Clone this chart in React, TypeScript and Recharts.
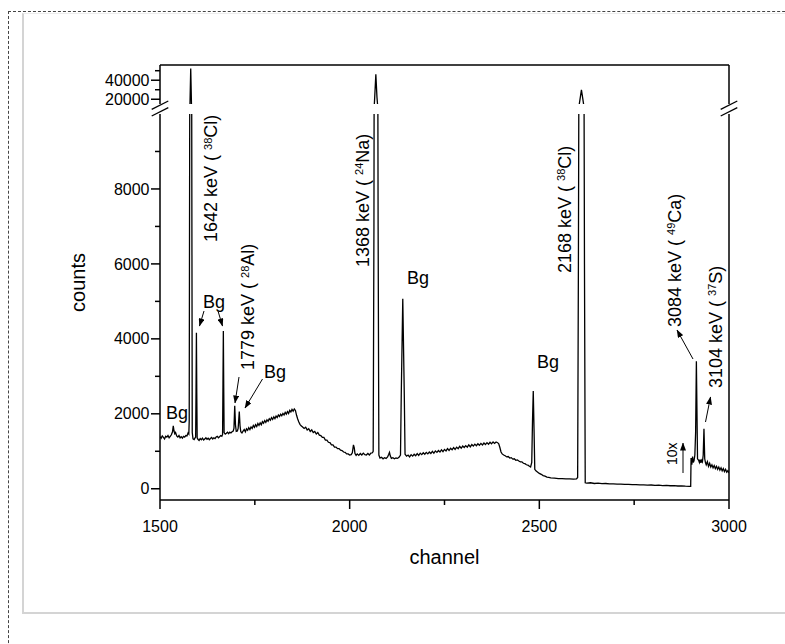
import React from 'react';
import { LineChart, Line, XAxis, YAxis } from 'recharts';

const FONT = '"Liberation Sans", Arial, Helvetica, sans-serif';

// spectrum, [channel, counts]
const spectrumA: [number, number][] = [
  [1500, 1390], [1503, 1350], [1506, 1410], [1509, 1370], [1512, 1330], [1515, 1400], [1518, 1380],
  [1521, 1420], [1524, 1360], [1527, 1400], [1530, 1440], [1533, 1520], [1535, 1680], [1537, 1540],
  [1539, 1470], [1541, 1500], [1544, 1410], [1547, 1380], [1550, 1420], [1553, 1360], [1556, 1390],
  [1559, 1350], [1562, 1400], [1565, 1380], [1568, 1420], [1571, 1410], [1574, 1490], [1576, 1460],
  [1577, 1800], [1579, 14000], [1581, 52300], [1583, 14000], [1585, 1500], [1587, 1330], [1590, 1310],
  [1592, 1350], [1594, 1380], [1595, 2600], [1596, 4160], [1597, 2500], [1598, 1360], [1600, 1320],
];

const spectrumB: [number, number][] = [
  [1603, 1290], [1606, 1340], [1609, 1310], [1612, 1350], [1615, 1300], [1618, 1330], [1621, 1360],
  [1624, 1320], [1627, 1350], [1630, 1310], [1633, 1340], [1636, 1370], [1639, 1330], [1642, 1360],
  [1645, 1340], [1648, 1380], [1651, 1400], [1654, 1360], [1657, 1390], [1660, 1420], [1663, 1400],
  [1665, 1450], [1666, 2800], [1667, 4210], [1668, 2700], [1669, 1500], [1672, 1460], [1675, 1480],
  [1678, 1510], [1681, 1470], [1684, 1510], [1687, 1490], [1690, 1520], [1693, 1540], [1695, 1620],
  [1697, 2213], [1699, 1700], [1701, 1530], [1704, 1540], [1706, 1610], [1709, 2060], [1711, 1680],
  [1713, 1520], [1716, 1490],
];

const spectrumC: [number, number][] = [
  [1719, 1540], [1722, 1580], [1725, 1520], [1728, 1600], [1731, 1560], [1734, 1630], [1737, 1580],
  [1740, 1650], [1743, 1610], [1746, 1690], [1749, 1640], [1752, 1710], [1755, 1660], [1758, 1740],
  [1761, 1690], [1764, 1760], [1767, 1710], [1770, 1790], [1773, 1750], [1776, 1820], [1779, 1770],
  [1782, 1840], [1785, 1800], [1788, 1870], [1791, 1830], [1794, 1900], [1797, 1850], [1800, 1920],
  [1803, 1870], [1806, 1940], [1809, 1900], [1812, 1970], [1815, 1930], [1818, 1990], [1821, 1950],
  [1824, 2010], [1827, 1970], [1830, 2040], [1833, 1990], [1836, 2060], [1839, 2010], [1842, 2090],
  [1845, 2050], [1848, 2120], [1851, 2070], [1854, 2130], [1857, 2090], [1860, 1960], [1863, 1860],
  [1866, 1780], [1869, 1720], [1872, 1680], [1876, 1650], [1880, 1610], [1884, 1640], [1888, 1570],
  [1892, 1600], [1896, 1530], [1900, 1570], [1904, 1500], [1908, 1530], [1912, 1460], [1916, 1500],
  [1920, 1430], [1924, 1420], [1928, 1370], [1932, 1370], [1936, 1300], [1940, 1300], [1944, 1240],
  [1948, 1230], [1952, 1170], [1956, 1170], [1960, 1110], [1964, 1110], [1968, 1070], [1972, 1070],
  [1976, 1030], [1980, 1020], [1984, 980], [1988, 970], [1992, 930], [1996, 930], [2000, 900],
  [2004, 910], [2007, 960], [2010, 1170], [2012, 1100], [2014, 940], [2017, 890], [2020, 930],
  [2024, 890], [2028, 940], [2032, 900], [2036, 950], [2040, 910], [2044, 900], [2048, 940],
  [2052, 900], [2056, 950], [2060, 960], [2062, 1000],
];

const spectrumD: [number, number][] = [
  [2064, 7000], [2066, 22000], [2069, 46300], [2072, 22000], [2075, 7000], [2077, 900], [2080, 820],
  [2084, 840], [2088, 800], [2092, 830], [2096, 810], [2100, 850], [2103, 920], [2105, 970],
  [2107, 880], [2110, 810], [2114, 830], [2118, 800], [2122, 820], [2126, 810], [2130, 840],
  [2134, 900], [2136, 2500], [2140, 5070], [2144, 2500], [2146, 920], [2150, 870], [2154, 900],
  [2158, 850], [2162, 910], [2166, 870], [2170, 920], [2174, 880], [2178, 940], [2182, 890],
  [2186, 950], [2190, 910], [2194, 960], [2198, 920], [2202, 970], [2206, 930], [2210, 980],
  [2214, 940], [2218, 1000], [2222, 950], [2226, 1010], [2230, 970], [2234, 1020], [2238, 980],
  [2242, 1040], [2246, 990], [2250, 1050], [2254, 1010], [2258, 1070], [2262, 1020], [2266, 1080],
  [2270, 1040], [2274, 1100], [2278, 1050], [2282, 1110], [2286, 1070], [2290, 1130], [2294, 1080],
  [2298, 1140], [2302, 1100], [2306, 1150], [2310, 1110], [2314, 1170], [2318, 1120], [2322, 1180],
  [2326, 1140], [2330, 1190], [2334, 1150], [2338, 1200], [2342, 1160], [2346, 1210], [2350, 1170],
  [2354, 1220], [2358, 1180], [2362, 1230], [2366, 1190], [2370, 1240], [2374, 1200], [2378, 1250],
  [2382, 1210], [2386, 1250], [2390, 1230], [2393, 1200], [2396, 1100], [2399, 980],
];

const spectrumE: [number, number][] = [
  [2402, 930], [2406, 900], [2410, 880], [2414, 850], [2418, 860], [2422, 820], [2426, 830],
  [2430, 790], [2434, 800], [2438, 760], [2442, 770], [2446, 740], [2450, 720], [2454, 720],
  [2458, 680], [2462, 670], [2466, 640], [2470, 630], [2474, 600], [2477, 580], [2480, 700],
  [2482, 1800], [2484, 2610], [2486, 1600], [2488, 520], [2491, 480], [2495, 450], [2500, 410],
  [2505, 385], [2510, 350], [2515, 335], [2520, 310], [2525, 305], [2530, 290], [2540, 285],
  [2550, 270], [2560, 272], [2570, 262], [2580, 266], [2590, 258], [2598, 262], [2601, 300],
  [2603, 6000], [2605, 14000], [2608, 22000], [2611, 30000], [2614, 22000], [2617, 14000],
  [2619, 6000], [2621, 160], [2625, 150], [2635, 160], [2645, 140], [2655, 150], [2665, 135],
  [2675, 140], [2685, 128], [2695, 132], [2705, 122], [2715, 126], [2725, 115], [2735, 118],
  [2745, 108], [2755, 112], [2765, 102], [2775, 106], [2785, 98], [2795, 100], [2805, 92],
  [2815, 95], [2825, 86], [2835, 88], [2845, 80], [2855, 82], [2865, 74], [2875, 76],
  [2885, 68], [2895, 64], [2899, 62],
];

// shown magnified 10x in the figure
const spectrumF: [number, number][] = [
  [2900, 820], [2902, 640], [2904, 860], [2906, 700], [2908, 760], [2910, 900], [2912, 1500],
  [2914, 3400], [2917, 800], [2920, 760], [2922, 700], [2924, 780], [2926, 690], [2928, 760],
  [2930, 720], [2932, 900], [2934, 1600], [2936, 800], [2938, 700], [2940, 640], [2943, 720],
  [2946, 600], [2949, 680], [2952, 580], [2955, 640], [2958, 560], [2961, 620], [2964, 540],
  [2967, 600], [2970, 520], [2973, 580], [2976, 500], [2979, 560], [2982, 480], [2985, 540],
  [2988, 460], [2991, 520], [2994, 440], [2997, 480], [3000, 420],
];

const X_TICKS = [1500, 1750, 2000, 2250, 2500, 2750, 3000];
const X_LABELED = [1500, 2000, 2500, 3000];
const LOW_TICKS = [0, 1000, 2000, 3000, 4000, 5000, 6000, 7000, 8000, 9000];
const LOW_LABELED = [0, 2000, 4000, 6000, 8000];
const HIGH_TICKS = [20000, 30000, 40000, 50000];
const HIGH_LABELED = [20000, 40000];

const X_DOMAIN = [1500, 3000];
const LOW_DOMAIN = [-300, 10000];
const HIGH_DOMAIN = [15000, 56000];

const data = [...spectrumA, ...spectrumB, ...spectrumC, ...spectrumD, ...spectrumE, ...spectrumF].map(
  ([ch, c]) => ({ ch, c })
);

const peakLabels = [
  { pre: '1642 keV ( ', sup: '38', post: 'Cl)', x: 217, y: 242 },
  { pre: '1779 keV ( ', sup: '28', post: 'Al)', x: 254, y: 370 },
  { pre: '1368 keV ( ', sup: '24', post: 'Na)', x: 368.5, y: 267 },
  { pre: '2168 keV ( ', sup: '38', post: 'Cl)', x: 570.5, y: 273 },
  { pre: '3084 keV ( ', sup: '49', post: 'Ca)', x: 680.5, y: 327 },
  { pre: '3104 keV ( ', sup: '37', post: 'S)', x: 721.5, y: 388 },
];

const bgLabels = [
  { x: 166, y: 419 },
  { x: 203, y: 308 },
  { x: 264, y: 378 },
  { x: 407, y: 284 },
  { x: 537, y: 368 },
];

const arrows = [
  [204, 311, 199.5, 326],
  [218, 311, 222.5, 326],
  [239, 377, 235, 403],
  [262.5, 379, 245, 408],
  [693, 359, 677, 330],
  [705.5, 422, 710.5, 397],
  [683, 473, 683, 443],
];

type TickProps = { x?: number; y?: number; payload?: { value: number } };

function BottomTick({ x = 0, y = 0, payload }: TickProps) {
  const v = payload?.value ?? 0;
  const major = X_LABELED.includes(v);
  return (
    <g>
      <line x1={x} x2={x} y1={y} y2={y + (major ? 9 : 5)} stroke="#000" strokeWidth={1.5} />
      {major && (
        <text x={x} y={y + 32} textAnchor="middle" fontSize={16} fontFamily={FONT} fill="#000">
          {v}
        </text>
      )}
    </g>
  );
}

function LeftTick({ x = 0, y = 0, payload, labeled }: TickProps & { labeled: number[] }) {
  const v = payload?.value ?? 0;
  const major = labeled.includes(v);
  return (
    <g>
      <line x1={x} x2={x - (major ? 9 : 5)} y1={y} y2={y} stroke="#000" strokeWidth={1.5} />
      {major && (
        <text x={x - 10.5} y={y} dy="0.35em" textAnchor="end" fontSize={16} fontFamily={FONT} fill="#000">
          {v}
        </text>
      )}
    </g>
  );
}

function BreakMark({ x, y }: { x: number; y: number }) {
  return (
    <g transform={`translate(${x},${y})`}>
      <polygon points="-8.3,0.8 8.3,-7.5 8.3,-0.8 -8.3,7.5" fill="#fff" />
      <line x1={-8.3} y1={0.8} x2={8.3} y2={-7.5} stroke="#000" strokeWidth={1.3} />
      <line x1={-8.3} y1={7.5} x2={8.3} y2={-0.8} stroke="#000" strokeWidth={1.3} />
    </g>
  );
}

const axisLine = { stroke: '#000', strokeWidth: 1.5 };

export default function App() {
  return (
    <div style={{ position: 'fixed', left: 0, top: 0, width: 785, height: 644, overflow: 'hidden', background: '#fff' }}>
      <div style={{ position: 'absolute', left: 8, top: 11, width: 900, height: 700, border: '1px dashed #444' }} />
      <div
        style={{
          position: 'absolute', left: 22, top: 13, width: 900, height: 598,
          borderLeft: '2px solid #d4d4d4', borderBottom: '2px solid #d4d4d4', borderTop: '1px solid #ececec',
        }}
      />

      {/* lower part of the broken axis */}
      <div style={{ position: 'absolute', left: 0, top: 0 }}>
        <LineChart width={785} height={644} data={data} margin={{ top: 114, right: 55, bottom: 143, left: 159 }}>
          <XAxis
            dataKey="ch" type="number" domain={X_DOMAIN} ticks={X_TICKS} interval={0} allowDataOverflow
            height={1} tickSize={0} tickMargin={0} axisLine={axisLine} tickLine={false}
            tick={(p: TickProps) => <BottomTick {...p} />}
          />
          <YAxis
            type="number" domain={LOW_DOMAIN} ticks={LOW_TICKS} interval={0} allowDataOverflow
            width={1} tickSize={0} tickMargin={0} axisLine={axisLine} tickLine={false}
            tick={(p: TickProps) => <LeftTick {...p} labeled={LOW_LABELED} />}
          />
          <YAxis yAxisId="r" orientation="right" type="number" domain={[0, 1]} width={1} tick={false} tickLine={false} axisLine={axisLine} />
          <Line dataKey="c" type="linear" stroke="#000" strokeWidth={1.3} dot={false} activeDot={false} isAnimationActive={false} />
        </LineChart>
      </div>

      {/* upper part of the broken axis */}
      <div style={{ position: 'absolute', left: 0, top: 0 }}>
        <LineChart width={785} height={130} data={data} margin={{ top: 64, right: 55, bottom: 26, left: 159 }}>
          <XAxis
            dataKey="ch" type="number" domain={X_DOMAIN} orientation="top" allowDataOverflow
            height={1} tick={false} tickLine={false} axisLine={axisLine}
          />
          <YAxis
            type="number" domain={HIGH_DOMAIN} ticks={HIGH_TICKS} interval={0} allowDataOverflow
            width={1} tickSize={0} tickMargin={0} axisLine={axisLine} tickLine={false}
            tick={(p: TickProps) => <LeftTick {...p} labeled={HIGH_LABELED} />}
          />
          <YAxis yAxisId="r" orientation="right" type="number" domain={[0, 1]} width={1} tick={false} tickLine={false} axisLine={axisLine} />
          <Line dataKey="c" type="linear" stroke="#000" strokeWidth={1.3} dot={false} activeDot={false} isAnimationActive={false} />
        </LineChart>
      </div>

      <svg width={785} height={644} style={{ position: 'absolute', left: 0, top: 0, pointerEvents: 'none' }}>
        <defs>
          <marker id="ah" markerWidth="8" markerHeight="6" refX="7.5" refY="3" orient="auto" markerUnits="userSpaceOnUse">
            <path d="M0,0 L8,3 L0,6 z" fill="#000" />
          </marker>
        </defs>
        <BreakMark x={160} y={108.5} />
        <BreakMark x={729} y={108.5} />
        <g fontFamily={FONT} fill="#000">
          <text transform="translate(85,282.5) rotate(-90)" textAnchor="middle" fontSize={20}>counts</text>
          <text x={444.5} y={564} textAnchor="middle" fontSize={20}>channel</text>
          {peakLabels.map((l) => (
            <text key={l.pre} transform={`translate(${l.x},${l.y}) rotate(-90)`} fontSize={18}>
              {l.pre}
              <tspan fontSize={11} dy={-5.5}>{l.sup}</tspan>
              <tspan dy={5.5}>{l.post}</tspan>
            </text>
          ))}
          {bgLabels.map((b, i) => (
            <text key={i} x={b.x} y={b.y} fontSize={18}>Bg</text>
          ))}
          <text transform="translate(676.5,465) rotate(-90)" fontSize={14}>10x</text>
        </g>
        {arrows.map(([x1, y1, x2, y2], i) => (
          <line key={i} x1={x1} y1={y1} x2={x2} y2={y2} stroke="#000" strokeWidth={1} markerEnd="url(#ah)" />
        ))}
      </svg>
    </div>
  );
}
